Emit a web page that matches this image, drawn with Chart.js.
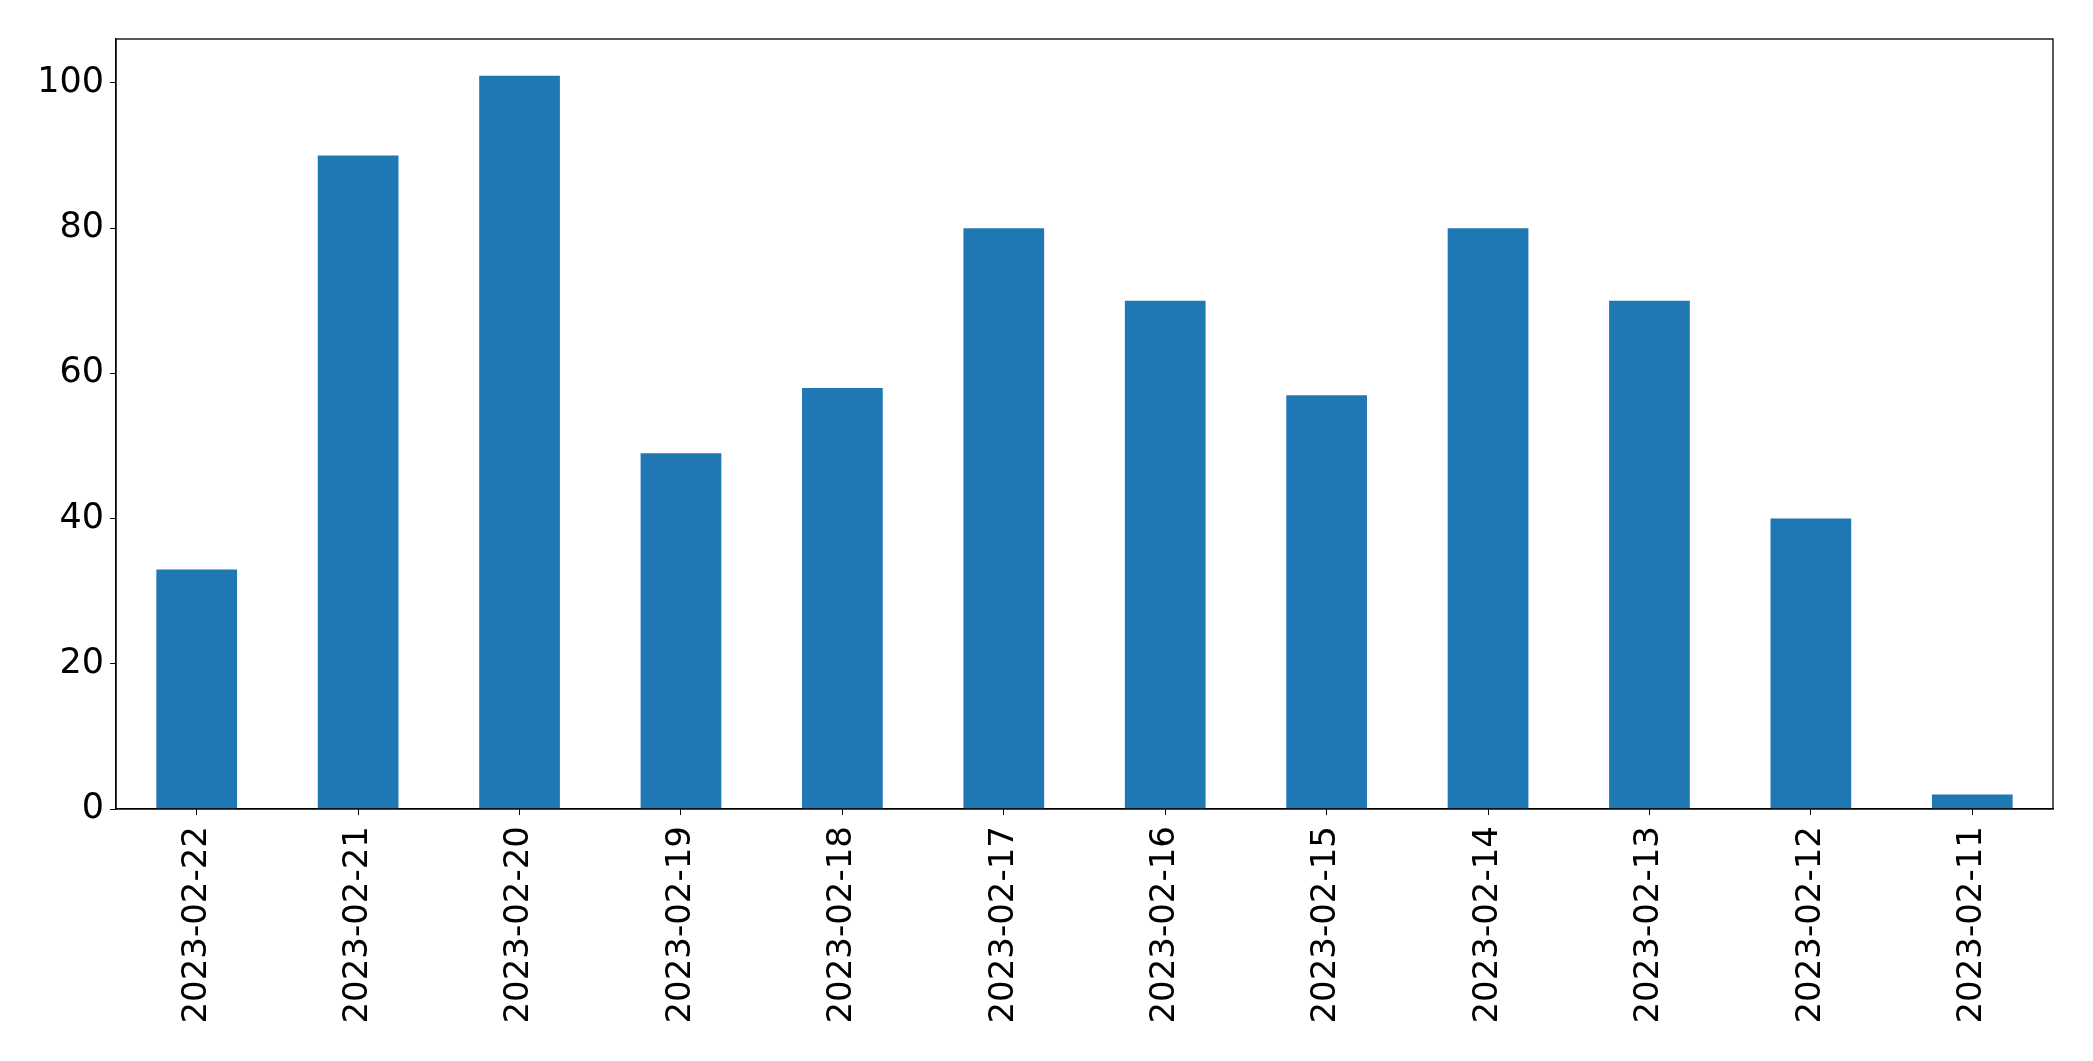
<!DOCTYPE html>
<html>
<head>
<meta charset="utf-8">
<script src="https://cdn.jsdelivr.net/npm/chart.js@4.4.0/dist/chart.umd.min.js"></script>
<style>
  html, body { margin: 0; padding: 0; background: #fff; }
  #wrap { width: 2093px; height: 1061px; }
</style>
</head>
<body>
<div id="wrap"><canvas id="barChart" width="2093" height="1061"></canvas></div>
<script>
// Dates on the x axis (newest first, as in the picture)
const dates = [
    '2023-02-22', '2023-02-21', '2023-02-20', '2023-02-19', '2023-02-18', '2023-02-17',
    '2023-02-16', '2023-02-15', '2023-02-14', '2023-02-13', '2023-02-12', '2023-02-11'
];
// Bar heights
const counts = [33, 90, 101, 49, 58, 80, 70, 57, 80, 70, 40, 2];
// Y tick step and upper limit (matplotlib style 5% headroom)
const yStep = 20;
const yMax = 106.05;

const xFont = { family: "'DejaVu Sans', sans-serif", size: 34 };
const yFont = { family: "'DejaVu Sans', sans-serif", size: 35 };

// Draw the full box around the plot like matplotlib does
const frameBox = {
    id: 'frameBox',
    afterDraw(chart) {
        const { ctx, chartArea } = chart;
        ctx.save();
        ctx.strokeStyle = '#000';
        ctx.lineWidth = 1.3;
        ctx.strokeRect(chartArea.left, chartArea.top,
            chartArea.right - chartArea.left, chartArea.bottom - chartArea.top);
        ctx.restore();
    }
};

const ctx = document.getElementById('barChart').getContext('2d');
new Chart(ctx, {
    type: 'bar',
    data: {
        labels: dates,
        datasets: [{
            data: counts,
            backgroundColor: '#1f77b4',
            borderWidth: 0,
            barPercentage: 0.5,
            categoryPercentage: 1.0
        }]
    },
    options: {
        responsive: false,
        animation: false,
        layout: { padding: { top: 39, right: 40, left: 0, bottom: 0 } },
        plugins: {
            legend: { display: false },
            tooltip: { enabled: false }
        },
        scales: {
            x: {
                offset: true,
                grid: { drawOnChartArea: false, drawTicks: true, tickLength: 6, color: '#000', offset: false },
                border: { color: '#000', width: 1.3 },
                ticks: {
                    color: '#000',
                    font: xFont,
                    minRotation: 90,
                    maxRotation: 90,
                    autoSkip: false,
                    padding: 11
                },
                afterFit(scale) { scale.height = 252; }
            },
            y: {
                min: 0,
                max: yMax,
                grid: { drawOnChartArea: false, drawTicks: true, tickLength: 6, color: '#000' },
                border: { color: '#000', width: 1.3 },
                ticks: {
                    color: '#000',
                    font: yFont,
                    stepSize: yStep,
                    includeBounds: false,
                    padding: 6
                },
                afterFit(scale) { scale.width = 116; }
            }
        }
    },
    plugins: [frameBox]
});
</script>
</body>
</html>
